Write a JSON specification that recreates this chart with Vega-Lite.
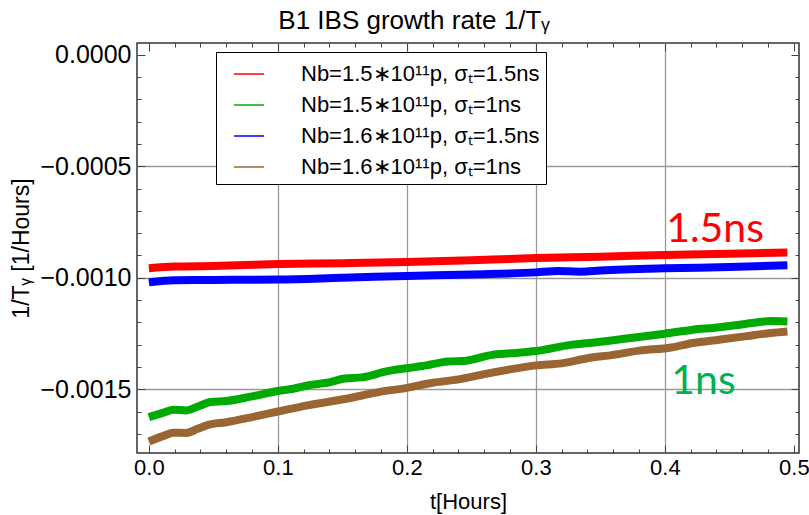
{
  "$schema": "https://vega.github.io/schema/vega-lite/v6.json",
  "width": 662,
  "height": 410,
  "autosize": "none",
  "padding": {"left": 137, "top": 43, "right": 10, "bottom": 62},
  "background": "white",
  "title": {
    "text": "B1 IBS growth rate 1/Tᵧ",
    "font": "Liberation Sans",
    "fontSize": 26,
    "fontWeight": "normal",
    "color": "black",
    "anchor": "middle",
    "offset": 9,
    "dx": -54
  },
  "config": {
    "font": "Liberation Sans",
    "view": {"stroke": "#333333", "strokeWidth": 1.5}
  },
  "datasets": {
    "curves": [
      {"series": "Nb=1.5∗10¹¹p, σₜ=1.5ns", "t": 0.0, "rate": -0.000958},
      {"series": "Nb=1.5∗10¹¹p, σₜ=1.5ns", "t": 0.02, "rate": -0.00095},
      {"series": "Nb=1.5∗10¹¹p, σₜ=1.5ns", "t": 0.05, "rate": -0.000947},
      {"series": "Nb=1.5∗10¹¹p, σₜ=1.5ns", "t": 0.1, "rate": -0.000939},
      {"series": "Nb=1.5∗10¹¹p, σₜ=1.5ns", "t": 0.15, "rate": -0.000935},
      {"series": "Nb=1.5∗10¹¹p, σₜ=1.5ns", "t": 0.2, "rate": -0.00093},
      {"series": "Nb=1.5∗10¹¹p, σₜ=1.5ns", "t": 0.25, "rate": -0.000922},
      {"series": "Nb=1.5∗10¹¹p, σₜ=1.5ns", "t": 0.3, "rate": -0.000912},
      {"series": "Nb=1.5∗10¹¹p, σₜ=1.5ns", "t": 0.35, "rate": -0.000906},
      {"series": "Nb=1.5∗10¹¹p, σₜ=1.5ns", "t": 0.4, "rate": -0.000898},
      {"series": "Nb=1.5∗10¹¹p, σₜ=1.5ns", "t": 0.45, "rate": -0.000892},
      {"series": "Nb=1.5∗10¹¹p, σₜ=1.5ns", "t": 0.495, "rate": -0.000887},

      {"series": "Nb=1.5∗10¹¹p, σₜ=1ns", "t": 0.0, "rate": -0.001625},
      {"series": "Nb=1.5∗10¹¹p, σₜ=1ns", "t": 0.012, "rate": -0.001604},
      {"series": "Nb=1.5∗10¹¹p, σₜ=1ns", "t": 0.019, "rate": -0.001592},
      {"series": "Nb=1.5∗10¹¹p, σₜ=1ns", "t": 0.029, "rate": -0.001595},
      {"series": "Nb=1.5∗10¹¹p, σₜ=1ns", "t": 0.037, "rate": -0.00158},
      {"series": "Nb=1.5∗10¹¹p, σₜ=1ns", "t": 0.048, "rate": -0.001557},
      {"series": "Nb=1.5∗10¹¹p, σₜ=1ns", "t": 0.06, "rate": -0.001553},
      {"series": "Nb=1.5∗10¹¹p, σₜ=1ns", "t": 0.08, "rate": -0.001532},
      {"series": "Nb=1.5∗10¹¹p, σₜ=1ns", "t": 0.1, "rate": -0.001508},
      {"series": "Nb=1.5∗10¹¹p, σₜ=1ns", "t": 0.112, "rate": -0.001498},
      {"series": "Nb=1.5∗10¹¹p, σₜ=1ns", "t": 0.124, "rate": -0.001482},
      {"series": "Nb=1.5∗10¹¹p, σₜ=1ns", "t": 0.138, "rate": -0.001471},
      {"series": "Nb=1.5∗10¹¹p, σₜ=1ns", "t": 0.152, "rate": -0.001452},
      {"series": "Nb=1.5∗10¹¹p, σₜ=1ns", "t": 0.165, "rate": -0.001447},
      {"series": "Nb=1.5∗10¹¹p, σₜ=1ns", "t": 0.185, "rate": -0.001419},
      {"series": "Nb=1.5∗10¹¹p, σₜ=1ns", "t": 0.2, "rate": -0.001406},
      {"series": "Nb=1.5∗10¹¹p, σₜ=1ns", "t": 0.212, "rate": -0.001396},
      {"series": "Nb=1.5∗10¹¹p, σₜ=1ns", "t": 0.232, "rate": -0.001376},
      {"series": "Nb=1.5∗10¹¹p, σₜ=1ns", "t": 0.246, "rate": -0.001372},
      {"series": "Nb=1.5∗10¹¹p, σₜ=1ns", "t": 0.266, "rate": -0.001346},
      {"series": "Nb=1.5∗10¹¹p, σₜ=1ns", "t": 0.28, "rate": -0.001339},
      {"series": "Nb=1.5∗10¹¹p, σₜ=1ns", "t": 0.3, "rate": -0.001329},
      {"series": "Nb=1.5∗10¹¹p, σₜ=1ns", "t": 0.327, "rate": -0.001301},
      {"series": "Nb=1.5∗10¹¹p, σₜ=1ns", "t": 0.347, "rate": -0.001289},
      {"series": "Nb=1.5∗10¹¹p, σₜ=1ns", "t": 0.367, "rate": -0.001275},
      {"series": "Nb=1.5∗10¹¹p, σₜ=1ns", "t": 0.4, "rate": -0.001251},
      {"series": "Nb=1.5∗10¹¹p, σₜ=1ns", "t": 0.422, "rate": -0.001233},
      {"series": "Nb=1.5∗10¹¹p, σₜ=1ns", "t": 0.439, "rate": -0.001224},
      {"series": "Nb=1.5∗10¹¹p, σₜ=1ns", "t": 0.455, "rate": -0.001213},
      {"series": "Nb=1.5∗10¹¹p, σₜ=1ns", "t": 0.472, "rate": -0.0012},
      {"series": "Nb=1.5∗10¹¹p, σₜ=1ns", "t": 0.482, "rate": -0.001194},
      {"series": "Nb=1.5∗10¹¹p, σₜ=1ns", "t": 0.495, "rate": -0.001196},

      {"series": "Nb=1.6∗10¹¹p, σₜ=1.5ns", "t": 0.0, "rate": -0.00102},
      {"series": "Nb=1.6∗10¹¹p, σₜ=1.5ns", "t": 0.02, "rate": -0.001011},
      {"series": "Nb=1.6∗10¹¹p, σₜ=1.5ns", "t": 0.05, "rate": -0.00101},
      {"series": "Nb=1.6∗10¹¹p, σₜ=1.5ns", "t": 0.1, "rate": -0.001008},
      {"series": "Nb=1.6∗10¹¹p, σₜ=1.5ns", "t": 0.15, "rate": -0.001},
      {"series": "Nb=1.6∗10¹¹p, σₜ=1.5ns", "t": 0.2, "rate": -0.000992},
      {"series": "Nb=1.6∗10¹¹p, σₜ=1.5ns", "t": 0.25, "rate": -0.000985},
      {"series": "Nb=1.6∗10¹¹p, σₜ=1.5ns", "t": 0.3, "rate": -0.000976},
      {"series": "Nb=1.6∗10¹¹p, σₜ=1.5ns", "t": 0.317, "rate": -0.00097},
      {"series": "Nb=1.6∗10¹¹p, σₜ=1.5ns", "t": 0.335, "rate": -0.000973},
      {"series": "Nb=1.6∗10¹¹p, σₜ=1.5ns", "t": 0.35, "rate": -0.000968},
      {"series": "Nb=1.6∗10¹¹p, σₜ=1.5ns", "t": 0.4, "rate": -0.000958},
      {"series": "Nb=1.6∗10¹¹p, σₜ=1.5ns", "t": 0.45, "rate": -0.000952},
      {"series": "Nb=1.6∗10¹¹p, σₜ=1.5ns", "t": 0.495, "rate": -0.000944},

      {"series": "Nb=1.6∗10¹¹p, σₜ=1ns", "t": 0.0, "rate": -0.001734},
      {"series": "Nb=1.6∗10¹¹p, σₜ=1ns", "t": 0.012, "rate": -0.001708},
      {"series": "Nb=1.6∗10¹¹p, σₜ=1ns", "t": 0.019, "rate": -0.001695},
      {"series": "Nb=1.6∗10¹¹p, σₜ=1ns", "t": 0.029, "rate": -0.001696},
      {"series": "Nb=1.6∗10¹¹p, σₜ=1ns", "t": 0.037, "rate": -0.00168},
      {"series": "Nb=1.6∗10¹¹p, σₜ=1ns", "t": 0.046, "rate": -0.00166},
      {"series": "Nb=1.6∗10¹¹p, σₜ=1ns", "t": 0.06, "rate": -0.001648},
      {"series": "Nb=1.6∗10¹¹p, σₜ=1ns", "t": 0.08, "rate": -0.001625},
      {"series": "Nb=1.6∗10¹¹p, σₜ=1ns", "t": 0.1, "rate": -0.0016},
      {"series": "Nb=1.6∗10¹¹p, σₜ=1ns", "t": 0.124, "rate": -0.001571},
      {"series": "Nb=1.6∗10¹¹p, σₜ=1ns", "t": 0.152, "rate": -0.001544},
      {"series": "Nb=1.6∗10¹¹p, σₜ=1ns", "t": 0.179, "rate": -0.001512},
      {"series": "Nb=1.6∗10¹¹p, σₜ=1ns", "t": 0.2, "rate": -0.001494},
      {"series": "Nb=1.6∗10¹¹p, σₜ=1ns", "t": 0.22, "rate": -0.001471},
      {"series": "Nb=1.6∗10¹¹p, σₜ=1ns", "t": 0.24, "rate": -0.001456},
      {"series": "Nb=1.6∗10¹¹p, σₜ=1ns", "t": 0.26, "rate": -0.001432},
      {"series": "Nb=1.6∗10¹¹p, σₜ=1ns", "t": 0.28, "rate": -0.001411},
      {"series": "Nb=1.6∗10¹¹p, σₜ=1ns", "t": 0.3, "rate": -0.001393},
      {"series": "Nb=1.6∗10¹¹p, σₜ=1ns", "t": 0.32, "rate": -0.001384},
      {"series": "Nb=1.6∗10¹¹p, σₜ=1ns", "t": 0.34, "rate": -0.001361},
      {"series": "Nb=1.6∗10¹¹p, σₜ=1ns", "t": 0.36, "rate": -0.001346},
      {"series": "Nb=1.6∗10¹¹p, σₜ=1ns", "t": 0.38, "rate": -0.001327},
      {"series": "Nb=1.6∗10¹¹p, σₜ=1ns", "t": 0.405, "rate": -0.001313},
      {"series": "Nb=1.6∗10¹¹p, σₜ=1ns", "t": 0.422, "rate": -0.001293},
      {"series": "Nb=1.6∗10¹¹p, σₜ=1ns", "t": 0.442, "rate": -0.001278},
      {"series": "Nb=1.6∗10¹¹p, σₜ=1ns", "t": 0.462, "rate": -0.001263},
      {"series": "Nb=1.6∗10¹¹p, σₜ=1ns", "t": 0.482, "rate": -0.001248},
      {"series": "Nb=1.6∗10¹¹p, σₜ=1ns", "t": 0.495, "rate": -0.001241}
    ],
    "notes": [
      {"label": "1.5ns", "t": 0.401, "rate": -0.000839},
      {"label": "1ns", "t": 0.405, "rate": -0.00152}
    ]
  },
  "layer": [
    {
      "data": {"name": "curves"},
      "mark": {"type": "line", "strokeWidth": 8, "interpolate": "monotone"},
      "encoding": {
        "x": {
          "field": "t",
          "type": "quantitative",
          "scale": {"domain": [-0.0092, 0.504], "nice": false, "zero": false},
          "axis": {
            "orient": "bottom",
            "title": "t[Hours]",
            "titleFont": "Liberation Sans",
            "titleFontSize": 22,
            "titleFontWeight": "normal",
            "titleColor": "black",
            "titlePadding": 9,
            "values": [0, 0.02, 0.04, 0.06, 0.08, 0.1, 0.12, 0.14, 0.16, 0.18, 0.2, 0.22, 0.24, 0.26, 0.28, 0.3, 0.32, 0.34, 0.36, 0.38, 0.4, 0.42, 0.44, 0.46, 0.48, 0.5],
            "labelExpr": "abs(datum.value * 10 - round(datum.value * 10)) < 1e-6 ? format(datum.value, '.1f') : ''",
            "labelFont": "Liberation Sans",
            "labelFontSize": 22,
            "labelColor": "black",
            "labelPadding": 12,
            "labelFlush": false,
            "labelOverlap": false,
            "domain": false,
            "tickColor": "#444444",
            "tickSize": {"condition": {"test": "abs(datum.value * 10 - round(datum.value * 10)) < 1e-6", "value": -8}, "value": -4},
            "grid": true,
            "gridColor": "#9a9a9a",
            "gridWidth": 1.3,
            "gridOpacity": {"condition": {"test": "abs(datum.value * 10 - round(datum.value * 10)) < 1e-6 && datum.value > 0.05 && datum.value < 0.45", "value": 1}, "value": 0}
          }
        },
        "y": {
          "field": "rate",
          "type": "quantitative",
          "scale": {"domain": [-0.001786, 0.0000526], "nice": false, "zero": false},
          "axis": {
            "orient": "left",
            "title": "1/Tᵧ [1/Hours]",
            "titleFont": "Liberation Sans",
            "titleFontSize": 23,
            "titleFontWeight": "normal",
            "titleColor": "black",
            "titlePadding": 6,
            "values": [-0.0017, -0.0016, -0.0015, -0.0014, -0.0013, -0.0012, -0.0011, -0.001, -0.0009, -0.0008, -0.0007, -0.0006, -0.0005, -0.0004, -0.0003, -0.0002, -0.0001, 0],
            "labelExpr": "abs(datum.value / 0.0005 - round(datum.value / 0.0005)) < 1e-6 ? format(datum.value, '.4f') : ''",
            "labelFont": "Liberation Sans",
            "labelFontSize": 25,
            "labelColor": "black",
            "labelPadding": 14,
            "labelFlush": false,
            "labelOverlap": false,
            "domain": false,
            "tickColor": "#444444",
            "tickSize": {"condition": {"test": "abs(datum.value / 0.0005 - round(datum.value / 0.0005)) < 1e-6", "value": -8}, "value": -4},
            "grid": true,
            "gridColor": "#9a9a9a",
            "gridWidth": 1.3,
            "gridOpacity": {"condition": {"test": "abs(datum.value / 0.0005 - round(datum.value / 0.0005)) < 1e-6 && datum.value < -0.0001", "value": 1}, "value": 0}
          }
        },
        "color": {
          "field": "series",
          "type": "nominal",
          "scale": {
            "domain": ["Nb=1.5∗10¹¹p, σₜ=1.5ns", "Nb=1.5∗10¹¹p, σₜ=1ns", "Nb=1.6∗10¹¹p, σₜ=1.5ns", "Nb=1.6∗10¹¹p, σₜ=1ns"],
            "range": ["#ff0000", "#00aa00", "#0000ff", "#996633"]
          },
          "legend": {
            "title": null,
            "orient": "none",
            "legendX": 79,
            "legendY": 9,
            "direction": "vertical",
            "fillColor": "white",
            "strokeColor": "black",
            "padding": 6,
            "symbolType": "stroke",
            "symbolSize": 900,
            "symbolStrokeWidth": 1.5,
            "symbolOffset": 11,
            "labelOffset": 36,
            "labelFont": "Liberation Sans",
            "labelFontSize": 22,
            "labelColor": "black",
            "labelLimit": 0,
            "rowPadding": 4
          }
        }
      }
    },
    {
      "data": {"name": "curves"},
      "mark": {"type": "line", "opacity": 0},
      "encoding": {
        "x": {
          "field": "t",
          "type": "quantitative",
          "axis": {
            "orient": "top",
            "title": null,
            "labels": false,
            "domain": false,
            "grid": false,
            "values": [0, 0.02, 0.04, 0.06, 0.08, 0.1, 0.12, 0.14, 0.16, 0.18, 0.2, 0.22, 0.24, 0.26, 0.28, 0.3, 0.32, 0.34, 0.36, 0.38, 0.4, 0.42, 0.44, 0.46, 0.48, 0.5],
            "tickColor": "#444444",
            "tickSize": {"condition": {"test": "abs(datum.value * 10 - round(datum.value * 10)) < 1e-6", "value": -8}, "value": -4}
          }
        },
        "y": {
          "field": "rate",
          "type": "quantitative",
          "axis": {
            "orient": "right",
            "title": null,
            "labels": false,
            "domain": false,
            "grid": false,
            "values": [-0.0017, -0.0016, -0.0015, -0.0014, -0.0013, -0.0012, -0.0011, -0.001, -0.0009, -0.0008, -0.0007, -0.0006, -0.0005, -0.0004, -0.0003, -0.0002, -0.0001, 0],
            "tickColor": "#444444",
            "tickSize": {"condition": {"test": "abs(datum.value / 0.0005 - round(datum.value / 0.0005)) < 1e-6", "value": -8}, "value": -4}
          }
        },
        "detail": {"field": "series"}
      }
    },
    {
      "data": {"name": "notes"},
      "transform": [{"filter": "datum.label === '1.5ns'"}],
      "mark": {"type": "text", "align": "left", "baseline": "alphabetic", "font": "Lato", "fontSize": 41, "color": "#ff0000"},
      "encoding": {
        "x": {"field": "t", "type": "quantitative", "axis": null},
        "y": {"field": "rate", "type": "quantitative", "axis": null},
        "text": {"field": "label"}
      }
    },
    {
      "data": {"name": "notes"},
      "transform": [{"filter": "datum.label === '1ns'"}],
      "mark": {"type": "text", "align": "left", "baseline": "alphabetic", "font": "Lato", "fontSize": 41, "color": "#00b050"},
      "encoding": {
        "x": {"field": "t", "type": "quantitative", "axis": null},
        "y": {"field": "rate", "type": "quantitative", "axis": null},
        "text": {"field": "label"}
      }
    }
  ],
  "resolve": {"axis": {"x": "independent", "y": "independent"}}
}
